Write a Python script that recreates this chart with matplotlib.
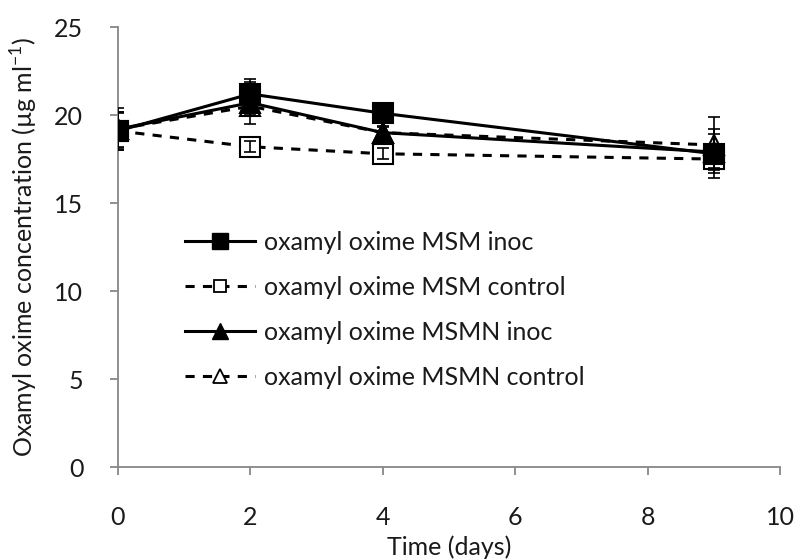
import matplotlib
matplotlib.use("Agg")
import matplotlib.pyplot as plt
from matplotlib.lines import Line2D

# data
days = [0, 2, 4, 9]
msm_inoc = [19.1, 21.2, 20.1, 17.8]
msm_inoc_err = [1.1, 0.85, 0.4, 1.4]
msm_ctrl = [19.1, 18.2, 17.8, 17.5]
msm_ctrl_err = [1.0, 0.3, 0.3, 0.5]
msmn_inoc = [19.2, 20.7, 19.0, 17.9]
msmn_inoc_err = [1.0, 1.2, 0.4, 1.0]
msmn_ctrl = [19.2, 20.5, 19.0, 18.3]
msmn_ctrl_err = [1.2, 0.5, 0.3, 1.6]

labels = ["oxamyl oxime MSM inoc", "oxamyl oxime MSM control",
          "oxamyl oxime MSMN inoc", "oxamyl oxime MSMN control"]

plt.rcParams['font.family'] = ['Lato', 'DejaVu Sans']
fs = 18
txt = '#1a1a1a'

fig = plt.figure(figsize=(7.95, 5.6), dpi=100)
ax = fig.add_axes([0.1484, 0.166, 0.8327, 0.7857])

dash = (0, (3, 2.7))
lw = 2.2
series = [
    (msmn_ctrl, msmn_ctrl_err, '^', 'white', dash),
    (msmn_inoc, msmn_inoc_err, '^', 'black', '-'),
    (msm_ctrl, msm_ctrl_err, 's', 'white', dash),
    (msm_inoc, msm_inoc_err, 's', 'black', '-'),
]
for i, (vals, err, mk, face, ls) in enumerate(series):
    ax.plot(days, vals, color='black', lw=lw, linestyle=ls, marker=mk, ms=15,
            mfc=face, mec='black', mew=1.5, zorder=2 + i)
    # Excel draws the error bars over the markers
    ax.errorbar(days, vals, yerr=err, fmt='none', ecolor='black', elinewidth=1.2,
                capsize=4.5, capthick=1.2, zorder=7)

ax.set_xlim(0, 10)
ax.set_ylim(0, 25)
ax.set_xticks([0, 2, 4, 6, 8, 10])
ax.set_yticks([0, 5, 10, 15, 20, 25])

for s in ['top', 'right']:
    ax.spines[s].set_visible(False)
for s in ['left', 'bottom']:
    ax.spines[s].set_color('#878787')
    ax.spines[s].set_linewidth(1.3)
ax.tick_params(axis='both', direction='out', length=6, width=1.3, color='#878787',
               labelsize=fs, labelcolor=txt)
ax.tick_params(axis='x', pad=22)
ax.tick_params(axis='y', pad=19)

ax.set_xlabel("Time (days)", fontsize=fs, color=txt, labelpad=5)
ax.set_ylabel("Oxamyl oxime concentration (µg ml$^{\\mathregular{-1}}$)", fontsize=fs,
              color=txt, labelpad=10)

# legend handles without error bars, like the reference
handles = [
    Line2D([], [], color='black', lw=lw, linestyle='-', marker='s', ms=12,
           mfc='black', mec='black'),
    Line2D([], [], color='black', lw=lw, linestyle=dash, marker='s', ms=9,
           mfc='white', mec='black', mew=1.3),
    Line2D([], [], color='black', lw=lw, linestyle='-', marker='^', ms=11,
           mfc='black', mec='black'),
    Line2D([], [], color='black', lw=lw, linestyle=dash, marker='^', ms=10,
           mfc='white', mec='black', mew=1.3),
]
ax.legend(handles, labels, loc='upper left', bbox_to_anchor=(0.101, 0.536),
          frameon=False, fontsize=fs, labelcolor=txt, handlelength=2.8,
          handletextpad=0.35, labelspacing=0.88, borderpad=0, borderaxespad=0)

fig.savefig("out.png", dpi=100)
